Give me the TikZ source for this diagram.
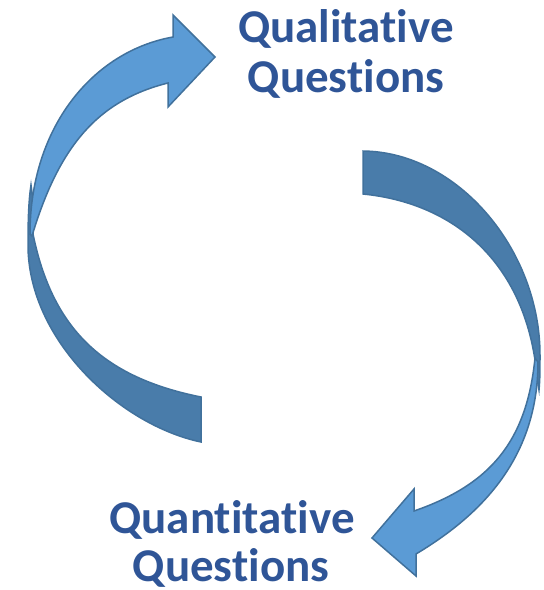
\documentclass[tikz,border=0pt]{standalone}
\usepackage{fontspec}
\newfontfamily\carl{Carlito}[Ligatures=NoCommon]
\definecolor{lightfill}{HTML}{5B9BD5}
\definecolor{darkfill}{HTML}{497CAA}
\definecolor{edge}{HTML}{41719C}
\definecolor{txtblue}{HTML}{2F5597}
\tikzset{
  frontpart/.style={fill=lightfill, draw=edge, line width=1.5pt, line join=miter},
  backpart/.style={fill=darkfill, draw=edge, line width=1.5pt, line join=miter},
  lbl/.style={inner sep=0pt, anchor=base, text=txtblue, font=\carl\bfseries\fontsize{47}{50}\selectfont}
}
\begin{document}
\begin{tikzpicture}[x=1pt,y=-1pt]
\useasboundingbox (0,0) rectangle (544,590);
% left arrow: back part
\path[backpart] (201,442) .. controls (120,425) and (28,340) .. (28,245)
  .. controls (28,215) and (29,198) .. (31,185)
  -- (33,200) -- (33,234)
  .. controls (52,327) and (101,377) .. (201,397) -- cycle;
% left arrow: front part
\path[frontpart] (30,234) .. controls (30,126) and (94,51) .. (173,37)
  -- (173,15) -- (215,57) -- (168,107) -- (168,83)
  .. controls (98,100.5) and (59,146) .. (32,236) -- cycle;
% right arrow: back part
\path[backpart] (363,151) .. controls (458,152) and (540,250) .. (540,355)
  .. controls (540,368) and (540,380) .. (539,390)
  -- (537,378) -- (535,360)
  .. controls (520,260) and (453,203) .. (363,194) -- cycle;
% right arrow: front part
\path[frontpart] (538,362) .. controls (538,462) and (476,518) .. (416,554)
  -- (416,576) -- (372,538) -- (414,489) -- (414,511)
  .. controls (489,485) and (526.5,443) .. (535,358) -- cycle;
% labels
\node[lbl] (qual1) at (346,42) {Qualitative};
\node[lbl] (qual2) at (346,92) {Questions};
\node[lbl] (quan1) at (232,533) {Quantitative};
\node[lbl] (quan2) at (231,581) {Questions};
\end{tikzpicture}
\end{document}
